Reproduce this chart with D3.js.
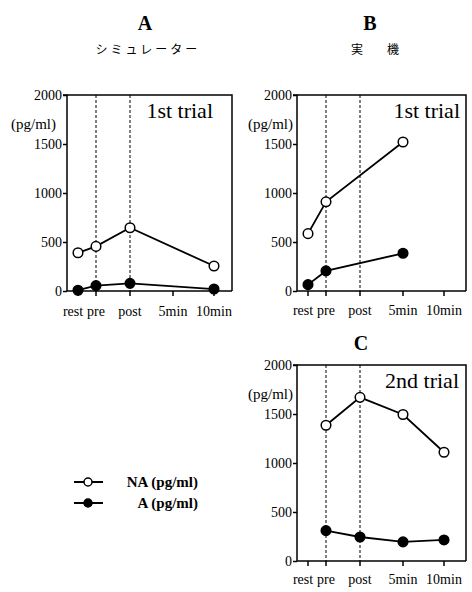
<!DOCTYPE html>
<html lang="ja">
<head>
  <meta charset="UTF-8" />
  <title>NA / A</title>
  <style>
    html, body {
      margin: 0;
      padding: 0;
      background: #fff;
    }
    svg text {
      font-family: "Liberation Serif", "DejaVu Serif", serif;
      fill: #000;
    }
    .jp {
      font-family: "Noto Sans CJK JP", sans-serif;
    }
  </style>
</head>
<body>
  <svg id="chart" width="472" height="592"></svg>

  <script src="https://d3js.org/d3.v7.min.js"></script>
  <script>
    // 時点
    const timepoints = ["rest", "pre", "post", "5min", "10min"];
    const yTicks = [0, 500, 1000, 1500, 2000];

    // A: シミュレーター 1st trial
    const naSim = [390, 455, 645, null, 255];
    const aSim = [8, 55, 78, null, 20];
    // B: 実機 1st trial
    const naReal1 = [585, 910, null, 1520, null];
    const aReal1 = [65, 205, null, 385, null];
    // C: 実機 2nd trial
    const naReal2 = [null, 1385, 1670, 1495, 1110];
    const aReal2 = [null, 310, 245, 195, 215];

    const svg = d3.select("#chart");

    function drawPanel(opt) {
      const { left, top, bottom, width, trial, trialX, unitX, na, a, dashed, labelY } = opt;
      const g = svg.append("g");

      const y = d3.scaleLinear().domain([0, 2000]).range([bottom, top]);
      // 時点の間隔は不等間隔
      const x = d3.scaleOrdinal().domain(timepoints)
        .range([11, 29, 63, 106, 147].map(d => left + d));

      // 枠（上・右）
      g.append("path")
        .attr("d", `M${left},${top}H${left + width}V${bottom}`)
        .attr("fill", "none").attr("stroke", "#000").attr("stroke-width", 1.5);

      // 破線
      dashed.forEach(t => {
        g.append("line")
          .attr("x1", x(t)).attr("x2", x(t))
          .attr("y1", top).attr("y2", bottom)
          .attr("stroke", "#000").attr("stroke-width", 1)
          .attr("stroke-dasharray", "3,2");
      });

      // y軸
      const yAxis = g.append("g")
        .attr("transform", `translate(${left},0)`)
        .call(d3.axisLeft(y).tickValues(yTicks).tickSize(4).tickPadding(1).tickFormat(d3.format("d")));
      yAxis.attr("font-family", null);
      yAxis.select(".domain").attr("stroke-width", 1.5).attr("d", `M-4,${top}H0V${bottom}`);
      yAxis.selectAll(".tick line").attr("stroke-width", 1.5);
      yAxis.selectAll(".tick text").style("font-size", "14px");

      // x軸
      g.append("line")
        .attr("x1", left).attr("x2", left + width)
        .attr("y1", bottom).attr("y2", bottom)
        .attr("stroke", "#000").attr("stroke-width", 1.5);
      timepoints.forEach(t => {
        g.append("line")
          .attr("x1", x(t)).attr("x2", x(t))
          .attr("y1", bottom).attr("y2", bottom + 5)
          .attr("stroke", "#000").attr("stroke-width", 1.5);
        g.append("text")
          .attr("x", x(t) + (t === "rest" ? -5 : 0))
          .attr("y", labelY)
          .attr("text-anchor", "middle")
          .style("font-size", "14px")
          .text(t);
      });

      // 単位
      g.append("text")
        .attr("x", unitX).attr("y", top + 34)
        .attr("text-anchor", "end")
        .style("font-size", "15px")
        .text("(pg/ml)");

      // trial
      g.append("text")
        .attr("x", trialX).attr("y", top + 23)
        .attr("text-anchor", "end")
        .style("font-size", "22px")
        .text(trial);

      // 系列
      const line = d3.line().x(d => x(d.t)).y(d => y(d.v));
      [[a, "#000"], [na, "#fff"]].forEach(([vals, fill]) => {
        const pts = timepoints.map((t, i) => ({ t, v: vals[i] })).filter(d => d.v != null);
        g.append("path")
          .attr("d", line(pts))
          .attr("fill", "none").attr("stroke", "#000").attr("stroke-width", 1.8);
        g.selectAll(null).data(pts).enter().append("circle")
          .attr("cx", d => x(d.t)).attr("cy", d => y(d.v))
          .attr("r", 4.8)
          .attr("fill", fill).attr("stroke", "#000").attr("stroke-width", 1.5);
      });
    }

    drawPanel({ left: 67, top: 95, bottom: 291, width: 165, trial: "1st trial", trialX: 213, unitX: 56,
      na: naSim, a: aSim, dashed: ["pre", "post"], labelY: 316 });
    drawPanel({ left: 297, top: 95, bottom: 291, width: 169, trial: "1st trial", trialX: 460, unitX: 293,
      na: naReal1, a: aReal1, dashed: ["pre", "post"], labelY: 315 });
    drawPanel({ left: 297, top: 365, bottom: 561, width: 169, trial: "2nd trial", trialX: 459, unitX: 293,
      na: naReal2, a: aReal2, dashed: ["pre", "post"], labelY: 584 });

    // パネル見出し
    const heads = [
      { label: "A", x: 145, y: 30 },
      { label: "B", x: 370, y: 30 },
      { label: "C", x: 361, y: 350 }
    ];
    heads.forEach(h => {
      svg.append("text")
        .attr("x", h.x).attr("y", h.y)
        .attr("text-anchor", "middle")
        .style("font-size", "20px").style("font-weight", "bold")
        .text(h.label);
    });

    svg.append("text").attr("class", "jp")
      .attr("x", 148).attr("y", 54)
      .attr("text-anchor", "middle")
      .style("font-size", "12px").style("letter-spacing", "3px")
      .text("シミュレーター");
    svg.append("text").attr("class", "jp")
      .attr("x", 378).attr("y", 54)
      .attr("text-anchor", "middle")
      .style("font-size", "12px").style("letter-spacing", "6px")
      .text("実　機");

    // 凡例
    const legend = [
      { name: "NA (pg/ml)", fill: "#fff", y: 482 },
      { name: "A (pg/ml)", fill: "#000", y: 503 }
    ];
    legend.forEach(d => {
      svg.append("line")
        .attr("x1", 74).attr("x2", 103).attr("y1", d.y).attr("y2", d.y)
        .attr("stroke", "#000").attr("stroke-width", 2);
      svg.append("circle")
        .attr("cx", 88).attr("cy", d.y).attr("r", 4)
        .attr("fill", d.fill).attr("stroke", "#000").attr("stroke-width", 1.5);
      svg.append("text")
        .attr("x", 198).attr("y", d.y + 5)
        .attr("text-anchor", "end")
        .style("font-size", "15px").style("font-weight", "bold")
        .text(d.name);
    });
  </script>
</body>
</html>
